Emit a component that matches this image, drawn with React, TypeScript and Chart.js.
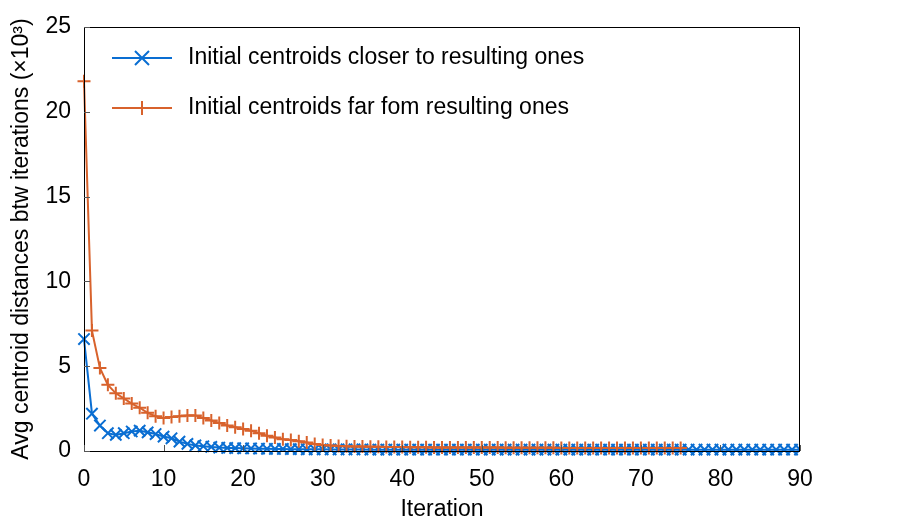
import React, { useEffect, useRef } from "react";
import { Chart, registerables } from "chart.js";

Chart.register(...registerables);

const FONT = "'Liberation Sans', Arial, Helvetica, sans-serif";
const FONT_SIZE = 23;

const seriesLabels = [
  "Initial centroids closer to resulting ones",
  "Initial centroids far fom resulting ones",
];
const seriesColors = ["#0A6ED2", "#D8622C"];

// Avg centroid distance (x10^3) per iteration
const closerValues = [
  6.6, 2.2, 1.5, 1.05, 0.95, 1.05, 1.15, 1.2, 1.1, 1.0,
  0.85, 0.75, 0.55, 0.42, 0.33, 0.28, 0.24, 0.2, 0.18, 0.17,
  0.16, 0.15, 0.14, 0.13, 0.12, 0.12, 0.11, 0.11, 0.1, 0.1,
  0.1, 0.09, 0.09, 0.09, 0.09, 0.09, 0.08, 0.08, 0.08, 0.08,
  0.08, 0.08, 0.08, 0.08, 0.08, 0.08, 0.08, 0.08, 0.08, 0.08,
  0.08, 0.08, 0.08, 0.08, 0.08, 0.08, 0.08, 0.08, 0.08, 0.08,
  0.08, 0.08, 0.08, 0.08, 0.08, 0.08, 0.08, 0.08, 0.08, 0.08,
  0.08, 0.08, 0.08, 0.08, 0.08, 0.08, 0.08, 0.08, 0.08, 0.08,
  0.08, 0.08, 0.08, 0.08, 0.08, 0.08, 0.08, 0.08, 0.08, 0.08,
  0.08,
];
const farValues = [
  21.8, 7.1, 4.9, 3.9, 3.4, 3.1, 2.8, 2.55, 2.25, 2.05,
  1.95, 2.0, 2.05, 2.1, 2.1, 1.95, 1.8, 1.65, 1.5, 1.4,
  1.3, 1.2, 1.05, 0.9, 0.8, 0.7, 0.65, 0.58, 0.5, 0.42,
  0.36, 0.32, 0.3, 0.28, 0.27, 0.26, 0.25, 0.25, 0.24, 0.24,
  0.23, 0.22, 0.22, 0.22, 0.21, 0.21, 0.21, 0.2, 0.2, 0.2,
  0.2, 0.2, 0.2, 0.19, 0.19, 0.19, 0.19, 0.19, 0.19, 0.19,
  0.18, 0.18, 0.18, 0.18, 0.18, 0.18, 0.18, 0.18, 0.18, 0.18,
  0.18, 0.18, 0.18, 0.18, 0.18, 0.18,
];

const xTicks = [0, 10, 20, 30, 40, 50, 60, 70, 80, 90];
const yTicks = [0, 5, 10, 15, 20, 25];
const xTitle = "Iteration";
const yTitle = "Avg centroid distances btw iterations (\u00d710\u00b3)";

const boxPlugin = {
  id: "boxAndLegend",
  afterDatasetsDraw(chart: any) {
    const { ctx, chartArea } = chart;
    const { left, right, top, bottom } = chartArea;
    const xs = chart.scales.x;
    const ys = chart.scales.y;
    ctx.save();
    ctx.strokeStyle = "#000";
    ctx.lineWidth = 1;
    ctx.strokeRect(left + 0.5, top + 0.5, right - left - 1, bottom - top);
    ctx.strokeStyle = "#555";
    const tl = 6;
    ctx.beginPath();
    for (const t of xTicks) {
      const px = Math.round(xs.getPixelForValue(t)) + 0.5;
      ctx.moveTo(px, bottom);
      ctx.lineTo(px, bottom - tl);
    }
    for (const t of yTicks) {
      const py = Math.round(ys.getPixelForValue(t)) + 0.5;
      ctx.moveTo(left, py);
      ctx.lineTo(left + tl, py);
    }
    ctx.stroke();

    // legend inside plot area
    const lx0 = left + 28;
    const lx1 = left + 88;
    const mx = (lx0 + lx1) / 2;
    const rows = [top + 31, top + 81];
    rows.forEach((ly, i) => {
      ctx.strokeStyle = seriesColors[i];
      ctx.lineWidth = 2;
      ctx.beginPath();
      ctx.moveTo(lx0, ly);
      ctx.lineTo(lx1, ly);
      ctx.stroke();
      ctx.beginPath();
      const h = 7;
      if (i === 0) {
        ctx.moveTo(mx - h, ly - h);
        ctx.lineTo(mx + h, ly + h);
        ctx.moveTo(mx + h, ly - h);
        ctx.lineTo(mx - h, ly + h);
      } else {
        ctx.moveTo(mx - h, ly);
        ctx.lineTo(mx + h, ly);
        ctx.moveTo(mx, ly - h);
        ctx.lineTo(mx, ly + h);
      }
      ctx.stroke();
      ctx.fillStyle = "#000";
      ctx.font = `${FONT_SIZE}px ${FONT}`;
      ctx.textAlign = "left";
      ctx.textBaseline = "middle";
      ctx.fillText(seriesLabels[i], left + 104, ly);
    });
    ctx.restore();
  },
};

export default function App() {
  const ref = useRef<HTMLCanvasElement | null>(null);
  useEffect(() => {
    if (!ref.current) return;
    const chart = new Chart(ref.current, {
      type: "line",
      data: {
        datasets: [
          {
            label: seriesLabels[0],
            data: closerValues.map((v, i) => ({ x: i, y: v })),
            borderColor: seriesColors[0],
            backgroundColor: seriesColors[0],
            borderWidth: 2,
            pointStyle: "crossRot",
            pointRadius: 8,
            pointBorderWidth: 2,
            pointBorderColor: seriesColors[0],
            tension: 0,
            order: 1,
            clip: { left: 30, top: 30, right: 0, bottom: 30 },
          },
          {
            label: seriesLabels[1],
            data: farValues.map((v, i) => ({ x: i, y: v })),
            borderColor: seriesColors[1],
            backgroundColor: seriesColors[1],
            borderWidth: 2,
            pointStyle: "cross",
            pointRadius: 6.5,
            pointBorderWidth: 2,
            pointBorderColor: seriesColors[1],
            tension: 0,
            order: 0,
            clip: { left: 30, top: 30, right: 0, bottom: 30 },
          },
        ],
      },
      options: {
        animation: false,
        responsive: false,
        maintainAspectRatio: false,
        layout: { padding: { top: 27, right: 100, left: 0, bottom: 0 } },
        plugins: {
          legend: { display: false },
          tooltip: { enabled: false },
        },
        scales: {
          x: {
            type: "linear",
            min: 0,
            max: 90,
            grid: { display: false, drawTicks: false },
            border: { display: false },
            ticks: {
              stepSize: 10,
              padding: 15,
              color: "#000",
              font: { family: FONT, size: FONT_SIZE },
              maxRotation: 0,
            },
            title: {
              display: true,
              text: xTitle,
              color: "#000",
              font: { family: FONT, size: FONT_SIZE },
              padding: { top: 0, bottom: 2 },
            },
            afterFit: (s: any) => {
              s.height = 74;
            },
          },
          y: {
            type: "linear",
            min: 0,
            max: 25,
            grid: { display: false, drawTicks: false },
            border: { display: false },
            ticks: {
              stepSize: 5,
              padding: 13,
              color: "#000",
              font: { family: FONT, size: FONT_SIZE },
            },
            title: {
              display: true,
              text: yTitle,
              color: "#000",
              font: { family: FONT, size: FONT_SIZE },
              padding: { top: 8, bottom: 0 },
            },
            afterFit: (s: any) => {
              s.width = 84;
            },
          },
        },
      },
      plugins: [boxPlugin],
    });
    return () => chart.destroy();
  }, []);
  return (
    <div style={{ position: "fixed", left: 0, top: 0, width: 900, height: 525, background: "#fff" }}>
      <canvas ref={ref} width={900} height={525} style={{ width: 900, height: 525 }} />
    </div>
  );
}
